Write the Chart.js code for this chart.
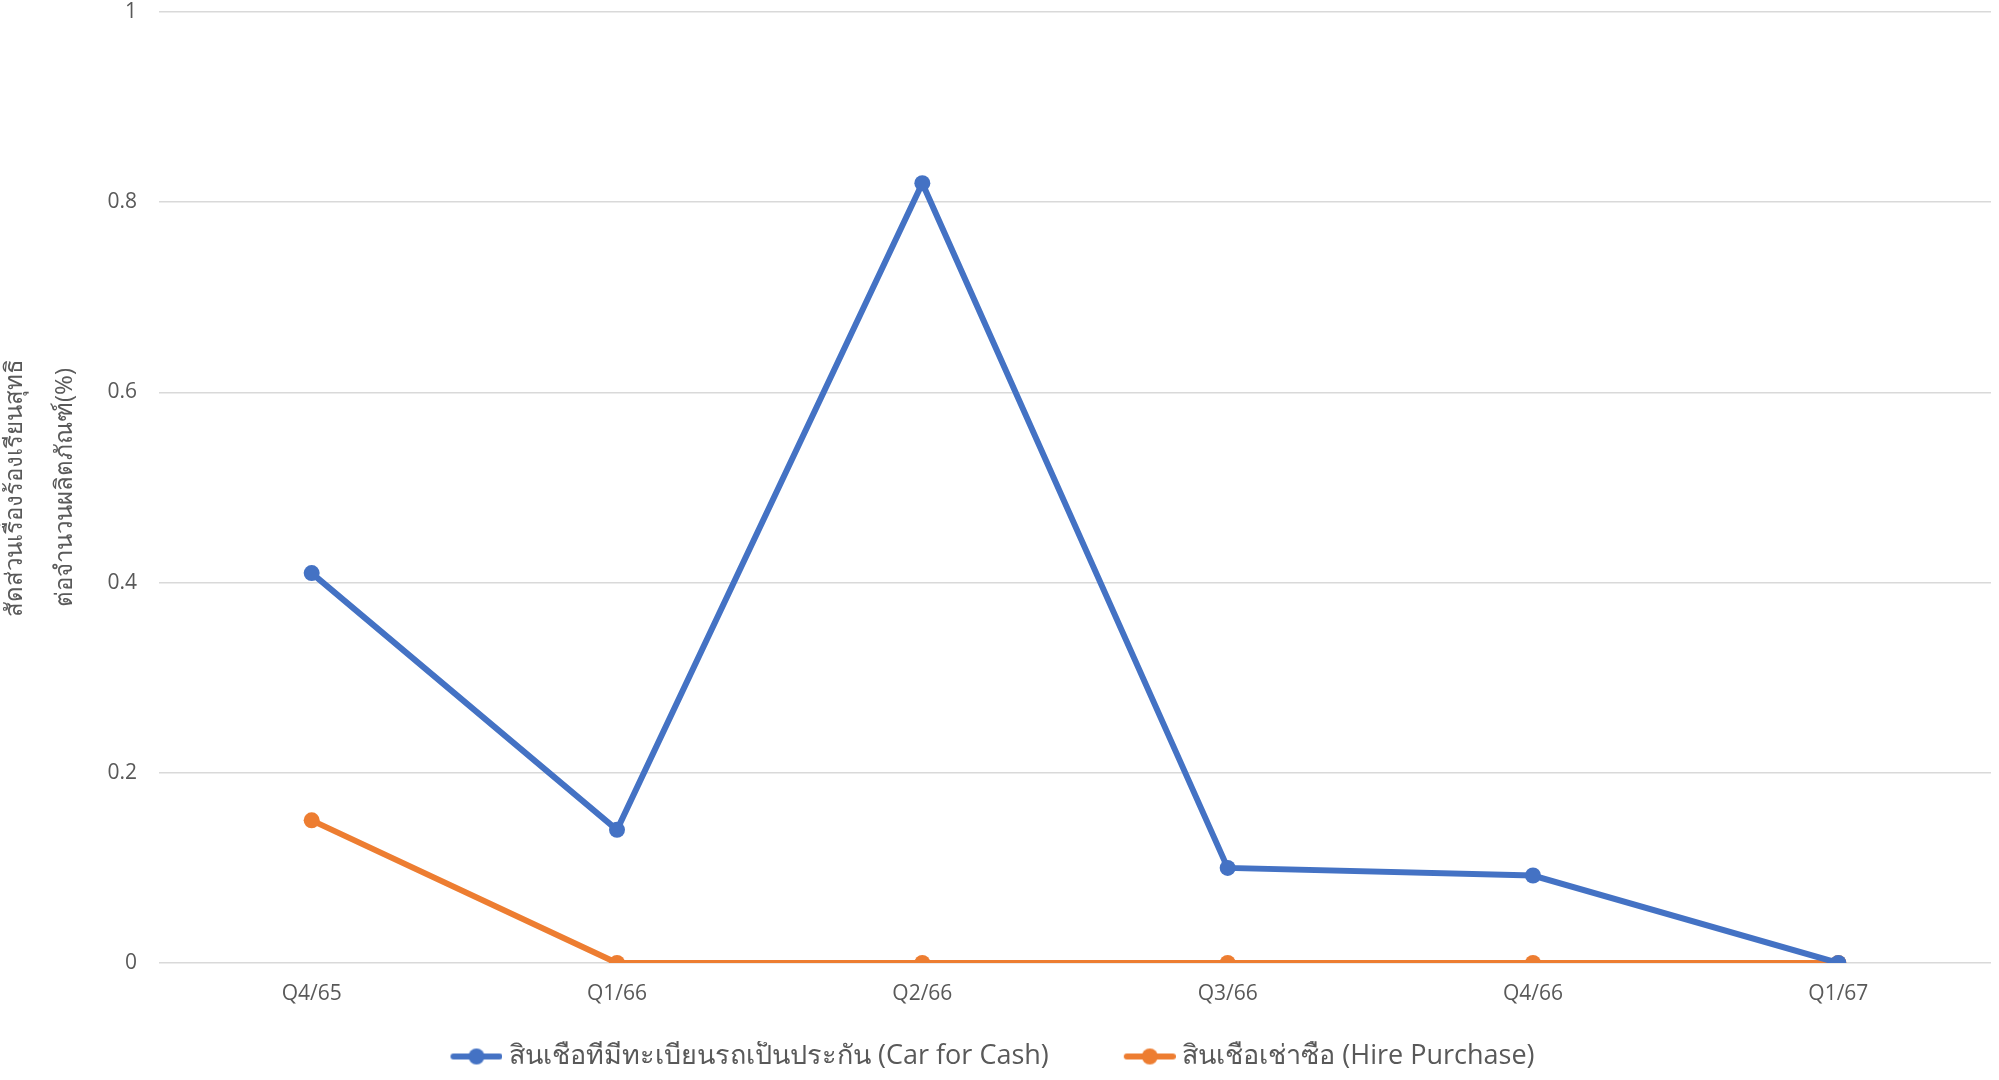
<!DOCTYPE html>
<html>
<head>
<meta charset="utf-8">
<script src="https://cdn.jsdelivr.net/npm/chart.js@4.4.1/dist/chart.umd.min.js"></script>
<style>
html,body{margin:0;padding:0;background:#fff;}
#wrap{width:1999px;height:1080px;position:relative;}
</style>
</head>
<body>
<div id="wrap"><canvas id="c" width="1999" height="1080"></canvas></div>
<script>
const categories = ["Q4/65", "Q1/66", "Q2/66", "Q3/66", "Q4/66", "Q1/67"];
const carForCash = [0.41, 0.14, 0.82, 0.10, 0.092, 0];
const hirePurchase = [0.15, 0, 0, 0, 0, 0];
const seriesNames = ["สินเชื่อที่มีทะเบียนรถเป็นประกัน (Car for Cash)", "สินเชื่อเช่าซื้อ (Hire Purchase)"];
const yTicks = [0, 0.2, 0.4, 0.6, 0.8, 1];
const yTitle = ["สัดส่วนเรื่องร้องเรียนสุทธิ", "ต่อจำนวนผลิตภัณฑ์(%)"];

const BLUE = "#4472C4", ORANGE = "#ED7D31", TXT = "#595959";
const FONT = "'Open Sans', 'Noto Sans', 'DejaVu Sans', sans-serif";
const LEG_PAD = 2;
const BOXW = 120 - LEG_PAD;
const LEG_SHIFT = 40;

function legendIcon(color){
  const cv = document.createElement('canvas');
  cv.width = BOXW + 14; cv.height = 18;
  const g = cv.getContext('2d');
  const right = BOXW + 14, left = right - 52, cy = 9;
  g.strokeStyle = color; g.lineWidth = 6; g.lineCap = 'round';
  g.beginPath(); g.moveTo(left + 3, cy); g.lineTo(right - 3, cy); g.stroke();
  g.fillStyle = color; g.beginPath(); g.arc((left + right) / 2, cy, 8, 0, Math.PI*2); g.fill();
  return cv;
}
const icons = [legendIcon(BLUE), legendIcon(ORANGE)];

const legendShift = {
  id: 'legendShift',
  afterLayout(chart){
    if (chart.legend) { chart.legend.left -= LEG_SHIFT; chart.legend.right -= LEG_SHIFT; }
  }
};

new Chart(document.getElementById('c'), {
  type: 'line',
  plugins: [legendShift],
  data: {
    labels: categories,
    datasets: [
      {label: seriesNames[0], data: carForCash, borderColor: BLUE, backgroundColor: BLUE,
       borderWidth: 6, pointRadius: 8, pointHoverRadius: 8, pointBackgroundColor: BLUE, pointBorderWidth: 0, tension: 0},
      {label: seriesNames[1], data: hirePurchase, borderColor: ORANGE, backgroundColor: ORANGE,
       borderWidth: 6, pointRadius: 8, pointHoverRadius: 8, pointBackgroundColor: ORANGE, pointBorderWidth: 0, tension: 0}
    ]
  },
  options: {
    responsive: false,
    animation: false,
    layout: {padding: {top: 0, right: 7, left: 0, bottom: 0}},
    plugins: {
      tooltip: {enabled: false},
      legend: {
        position: 'bottom',
        labels: {
          usePointStyle: true,
          pointStyleWidth: BOXW,
          padding: LEG_PAD,
          color: TXT,
          font: {family: FONT, size: 27},
          generateLabels(chart){
            return chart.data.datasets.map((ds, i) => ({
              text: ds.label, fillStyle: ds.borderColor, strokeStyle: ds.borderColor,
              lineWidth: 0, pointStyle: icons[i], datasetIndex: i, hidden: false, fontColor: TXT
            }));
          }
        }
      }
    },
    scales: {
      x: {
        offset: true,
        afterFit(scale){ scale.height = 78; },
        grid: {display: false, drawTicks: false},
        border: {display: false},
        ticks: {color: TXT, font: {family: FONT, size: 21}, padding: 18, maxRotation: 0}
      },
      y: {
        min: 0, max: 1,
        afterBuildTicks(scale){ scale.ticks = yTicks.map(v => ({value: v})); },
        afterFit(scale){ scale.width = 159; scale.paddingTop = 12; scale.paddingBottom = 0; },
        grid: {color: "#d9d9d9", lineWidth: 1.5, drawTicks: false},
        border: {display: false},
        ticks: {color: TXT, font: {family: FONT, size: 21}, padding: 22,
                callback: v => String(v)},
        title: {display: true, text: yTitle, color: TXT, font: {family: FONT, size: 24, lineHeight: 2.1}, padding: {top: -10, bottom: 0}}
      }
    }
  }
});
</script>
</body>
</html>
